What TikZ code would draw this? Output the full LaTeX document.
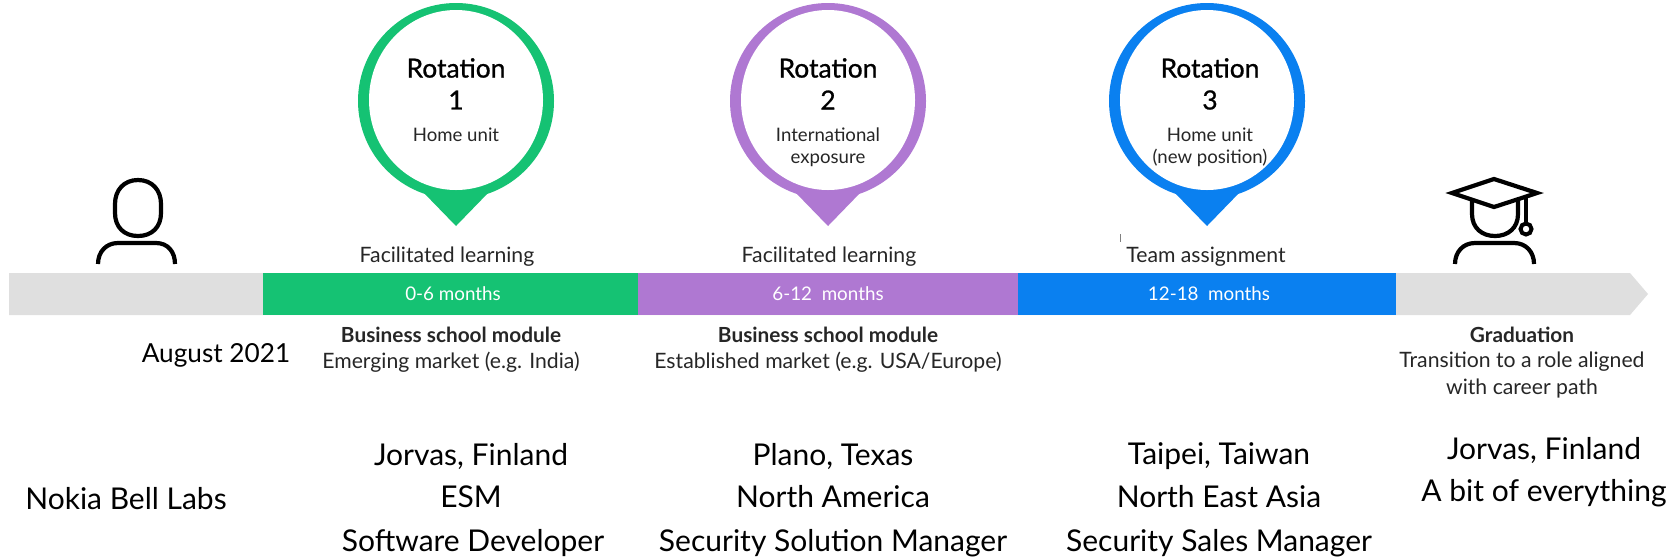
\documentclass[tikz,border=0pt]{standalone}
\usepackage{fontspec}
\setmainfont{Lato}
\newfontfamily\medfont[FakeBold=0.8]{Lato}
\definecolor{cgreen}{HTML}{15C273}
\definecolor{cpurple}{HTML}{AF78D2}
\definecolor{cblue}{HTML}{0A80F0}
\definecolor{cgray}{HTML}{DFDFDF}
\definecolor{ctext}{HTML}{262626}
\newcommand{\fsz}[1]{\fontsize{#1}{#1}\selectfont}
\tikzset{
  x=0.5pt,y=-0.5pt,
  title/.style={text=black,inner sep=0,font=\medfont\fsz{13.2}},
  inner/.style={text=ctext,inner sep=0,font=\fsz{9.3}},
  small/.style={text=ctext,inner sep=0,font=\fsz{10.6}},
  boldsmall/.style={text=ctext,inner sep=0,font=\fsz{10.4}\bfseries},
  month/.style={text=white,inner sep=0,font=\fsz{9.4}},
  big/.style={text=black,inner sep=0,font=\fsz{15}},
  icon/.style={draw=black,line width=2.1pt,fill=none},
}
\newcommand{\pin}[2]{%
  \fill[#2] (#1-33,192) -- (#1,226) -- (#1+33,192) -- cycle;
  \fill[#2] (#1,101) ellipse [x radius=98, y radius=98];
  \fill[white] (#1,100) ellipse [x radius=87, y radius=90];
}
\begin{document}
\begin{tikzpicture}
\useasboundingbox (0,0) rectangle (1668,559);
% bar
\fill[cgray] (9,273) -- (1630,273) -- (1648,294) -- (1630,315) -- (9,315) -- cycle;
\fill[cgreen] (263,273) rectangle (638,315);
\fill[cpurple] (638,273) rectangle (1018,315);
\fill[cblue] (1018,273) rectangle (1396,315);
% pins
\pin{456}{cgreen}
\pin{828}{cpurple}
\pin{1207}{cblue}
\draw[gray,line width=0.4pt] (1120,234) -- (1120,242);
% person
\draw[icon] (138,180) ..controls (124,180) and (115,190) .. (115,204) -- (115,213) ..controls (115,227) and (124,236) .. (138,236) ..controls (152,236) and (161,227) .. (161,213) -- (161,204) ..controls (161,190) and (152,180) .. (138,180) -- cycle;
\draw[icon] (98,264) ..controls (98,252) and (106,243) .. (118,243) -- (156,243) ..controls (168,243) and (175,252) .. (175,264);
% graduate
\draw[icon] (1472,200) -- (1472,214) ..controls (1472,228) and (1482,236) .. (1495,236) ..controls (1508,236) and (1518,228) .. (1518,214) -- (1518,200);
\draw[icon] (1455,264) ..controls (1455,252) and (1463,243) .. (1475,243) -- (1514,243) ..controls (1526,243) and (1534,252) .. (1534,264);
\draw[icon,fill=white,line join=miter] (1452,193) -- (1494,179) -- (1537,193) -- (1494,207) -- cycle;
\draw[icon] (1526,198) -- (1526,224);
\draw[icon,line width=2pt] (1526,229) circle [radius=5.5];
% pin text
\node[title] (r1) at (456,68) {Rotation};
\node[title] (r1n) at (456,100) {1};
\node[inner] (r1s) at (456,135) {Home unit};
\node[title] (r2) at (828,68) {Rotation};
\node[title] (r2n) at (828,100) {2};
\node[inner] (r2s) at (828,135) {International};
\node[inner] (r2t) at (828,160) {exposure};
\node[title] (r3) at (1210,68) {Rotation};
\node[title] (r3n) at (1210,100) {3};
\node[inner] (r3s) at (1210,135) {Home unit};
\node[inner] (r3t) at (1210,158) {(new position)};
% above bar
\node[small] (a1) at (447,257) {Facilitated learning};
\node[small] (a2) at (829,257) {Facilitated learning};
\node[small] (a3) at (1206,257) {Team assignment};
% months
\node[month] (m1) at (453,294) {0-6 months};
\node[month] (m2) at (828,294) {6-12\ \ months};
\node[month] (m3) at (1209,294) {12-18\ \ months};
% below bar
\node[boldsmall] (b1) at (451,335) {Business school module};
\node[small] (c1) at (451,362) {Emerging market (e.g. India)};
\node[boldsmall] (b2) at (828,335) {Business school module};
\node[small] (c2) at (828,362) {Established market (e.g. USA/Europe)};
\node[boldsmall] (b3) at (1522,335) {Graduation};
\node[small] (c3) at (1522,362) {Transition to a role aligned};
\node[small] (c4) at (1522,388) {with career path};
\node[big,font=\fsz{13.1}] (aug) at (216,355) {August 2021};
% bottom
\node[big] (n0) at (126,499) {Nokia Bell Labs};
\node[big] (j1) at (471,456) {Jorvas, Finland};
\node[big] (j2) at (471,497) {ESM};
\node[big] (j3) at (473,543) {Software Developer};
\node[big] (p1) at (833,456) {Plano, Texas};
\node[big] (p2) at (833,497) {North America};
\node[big] (p3) at (833,543) {Security Solution Manager};
\node[big] (t1) at (1219,456) {Taipei, Taiwan};
\node[big] (t2) at (1219,497) {North East Asia};
\node[big] (t3) at (1219,543) {Security Sales Manager};
\node[big] (g1) at (1544,450) {Jorvas, Finland};
\node[big] (g2) at (1544,493) {A bit of everything};
\end{tikzpicture}
\end{document}
